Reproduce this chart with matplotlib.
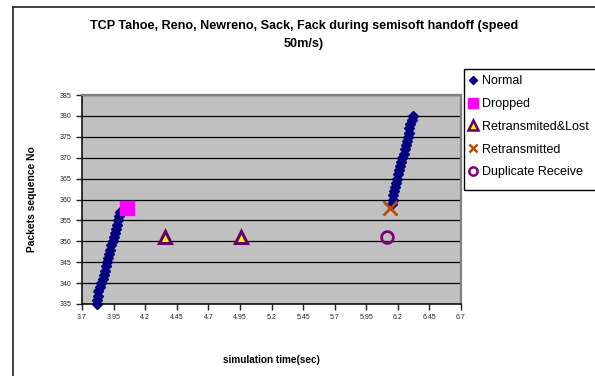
import matplotlib.pyplot as plt
from matplotlib.lines import Line2D
from matplotlib.patches import Rectangle

plt.rcParams['font.family'] = ['Liberation Sans', 'DejaVu Sans']

# packets received normally (before and after the handoff)
normal_t1 = [3.818, 3.821, 3.824, 3.828, 3.841, 3.852, 3.866, 3.875, 3.883,
             3.891, 3.900, 3.908, 3.917, 3.925, 3.933, 3.942, 3.950, 3.958,
             3.967, 3.975, 3.983, 3.992, 4.000]
normal_seq1 = [335, 336, 337, 338, 339, 340, 341, 342, 343, 344, 345, 346,
               347, 348, 349, 350, 351, 352, 353, 354, 355, 356, 357]
normal_t2 = [6.150, 6.158, 6.165, 6.172, 6.180, 6.188, 6.195, 6.203, 6.212,
             6.220, 6.228, 6.236, 6.245, 6.254, 6.262, 6.270, 6.278, 6.285,
             6.292, 6.300, 6.310, 6.320]
normal_seq2 = [359, 360, 361, 362, 363, 364, 365, 366, 367, 368, 369, 370,
               371, 372, 373, 374, 375, 376, 377, 378, 379, 380]

dropped_t = [4.06]
dropped_seq = [358]
retlost_t = [4.36, 4.96]
retlost_seq = [351, 351]
retrans_t = [6.14]
retrans_seq = [358]
dup_t = [6.115]
dup_seq = [351]

xticks = [3.7, 3.95, 4.2, 4.45, 4.7, 4.95, 5.2, 5.45, 5.7, 5.95, 6.2, 6.45, 6.7]
xticklabels = ['3.7', '3.95', '4.2', '4.45', '4.7', '4.95', '5.2', '5.45',
               '5.7', '5.95', '6.2', '6.45', '6.7']
yticks = list(range(335, 386, 5))

W, H = 595, 376
fig = plt.figure(figsize=(W / 100, H / 100), dpi=100)
ax = fig.add_axes([82 / W, 1 - 304 / H, (461 - 82) / W, (304 - 95) / H])
ax.set_facecolor('#c0c0c0')

ax.set_xlim(3.7, 6.7)
ax.set_ylim(335, 385)
ax.set_xticks(xticks)
ax.set_xticklabels(xticklabels)
ax.set_yticks(yticks)
ax.tick_params(labelsize=5, colors='#222222', length=4, width=1, direction='out')
ax.yaxis.grid(True, color='black', lw=0.9)
ax.set_axisbelow(True)

for s in ['top', 'right']:
    ax.spines[s].set_color('#808080')
    ax.spines[s].set_linewidth(1.6)
for s in ['left', 'bottom']:
    ax.spines[s].set_color('#111111')
    ax.spines[s].set_linewidth(1.2)

ax.plot(normal_t1, normal_seq1, ls='none', marker='D', ms=5,
        color='#000080', clip_on=False, zorder=3)
ax.plot(normal_t2, normal_seq2, ls='none', marker='D', ms=5,
        color='#000080', clip_on=False, zorder=3)
ax.plot(dropped_t, dropped_seq, ls='none', marker='s', ms=10,
        color='#ff00ff', zorder=4)
ax.plot(retlost_t, retlost_seq, ls='none', marker='^', ms=9,
        mfc='#ffff00', mec='#660066', mew=2.2, zorder=4)
ax.plot(retrans_t, retrans_seq, ls='none', marker='x', ms=10,
        color='#b84a0a', mew=2, zorder=4)
ax.plot(dup_t, dup_seq, ls='none', marker='o', ms=8.5,
        mfc='none', mec='#800080', mew=2, zorder=4)

ax.set_xlabel('simulation time(sec)', fontsize=7.2, fontweight='bold',
              labelpad=24)
fig.text(32 / W, 1 - 199 / H, 'Packets sequence No', rotation=90,
         fontsize=7.4, fontweight='bold', ha='center', va='center')
fig.text(304 / W, 1 - 35 / H,
         'TCP Tahoe, Reno, Newreno, Sack, Fack during semisoft handoff (speed\n50m/s)',
         fontsize=9.1, fontweight='bold', ha='center', va='center',
         multialignment='center', linespacing=1.7)

# legend
handles = [
    Line2D([], [], ls='none', marker='D', ms=4.5, color='#000080'),
    Line2D([], [], ls='none', marker='s', ms=7, color='#ff00ff'),
    Line2D([], [], ls='none', marker='^', ms=7, mfc='#ffff00', mec='#660066', mew=1.8),
    Line2D([], [], ls='none', marker='x', ms=6, color='#b84a0a', mew=1.8),
    Line2D([], [], ls='none', marker='o', ms=6, mfc='none', mec='#800080', mew=1.8),
]
labels = ['Normal', 'Dropped', 'Retransmited&Lost', 'Retransmitted',
          'Duplicate Receive']
fig.legend(handles, labels, loc='upper left',
           bbox_to_anchor=(469 / W, 1 - 75 / H), frameon=False,
           fontsize=9, handlelength=0.6, handletextpad=0.44,
           labelspacing=0.87, borderaxespad=0, borderpad=0)
fig.patches.append(Rectangle((464 / W, 1 - 190 / H), 140 / W, 121 / H,
                             transform=fig.transFigure, fill=False,
                             ec='black', lw=1, clip_on=False))

# chart border
fig.add_artist(Line2D([13 / W, 13 / W], [0, 1 - 7 / H], color='#222222',
                      lw=1.2, transform=fig.transFigure))
fig.add_artist(Line2D([13 / W, 1], [1 - 7 / H, 1 - 7 / H], color='#222222',
                      lw=1.2, transform=fig.transFigure))

fig.savefig('out.png', dpi=100)
